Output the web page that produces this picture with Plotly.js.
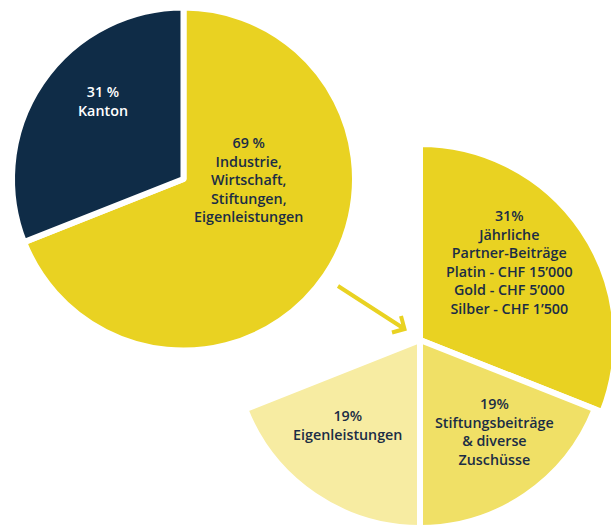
<!DOCTYPE html>
<html>
<head>
<meta charset="utf-8">
<script src="https://cdn.plot.ly/plotly-3.0.1.min.js"></script>
<style>
html,body{margin:0;padding:0;overflow:hidden;background:#fff;}
#chart{width:620px;height:540px;}
</style>
</head>
<body>
<div id="chart"></div>
<script>
// ---- data ----
const pie1Values = [69, 31];
const pie1Percent = ['69 %', '31 %'];
const pie1LabelLines = [
  ['Industrie,', 'Wirtschaft,', 'Stiftungen,', 'Eigenleistungen'],
  ['Kanton']
];
const pie1Colors = ['#e9d222', '#0f2c47'];
const pie1TextColors = ['#1b2d45', '#ffffff'];

const pie2Values = [31, 19, 19];
const pie2Percent = ['31%', '19%', '19%'];
const pie2LabelLines = [
  ['Jährliche', 'Partner-Beiträge', 'Platin - CHF 15’000', 'Gold - CHF 5’000', 'Silber - CHF 1’500'],
  ['Stiftungsbeiträge', '& diverse', 'Zuschüsse'],
  ['Eigenleistungen']
];
const pie2Colors = ['#e9d222', '#f0e066', '#f7eca2'];
const textColor = '#1b2d45';

// ---- layout helpers (pixel -> paper) ----
const W = 620, H = 540;
const px = x => x / W;
const py = y => 1 - y / H;
function domainFor(cx, cy, r) {
  return { x: [px(cx - r), px(cx + r)], y: [py(cy + r), py(cy - r)] };
}

const pie2Rest = 100 - pie2Values.reduce((a, b) => a + b, 0);
const pie2All = pie2Values.concat([pie2Rest]);
const clear = 'rgba(0,0,0,0)';

const traces = [
  {
    type: 'pie', values: pie1Values, labels: ['a', 'b'], sort: false, direction: 'clockwise', rotation: 0,
    marker: { colors: pie1Colors, line: { color: '#ffffff', width: 6 } },
    textinfo: 'none', hoverinfo: 'skip', domain: domainFor(183.5, 179, 171.5)
  },
  {
    type: 'pie', values: pie2All, labels: ['p1', 'p2', 'p3', 'p4'], sort: false, direction: 'clockwise', rotation: 0,
    marker: { colors: [pie2Colors[0], clear, clear, clear], line: { color: '#ffffff', width: [6, 0, 0, 0] } },
    textinfo: 'none', hoverinfo: 'skip', domain: domainFor(420, 340, 196)
  },
  {
    type: 'pie', values: pie2All, labels: ['q1', 'q2', 'q3', 'q4'], sort: false, direction: 'clockwise', rotation: 0,
    marker: { colors: [clear, pie2Colors[1], pie2Colors[2], clear], line: { color: '#ffffff', width: [0, 6, 6, 0] } },
    textinfo: 'none', hoverinfo: 'skip', domain: domainFor(420, 340, 188)
  }
];

const font = { family: 'Open Sans, sans-serif', size: 14.3, weight: 600 };
function ann(x, y, text, color) {
  return {
    xref: 'paper', yref: 'paper', x: px(x), y: py(y), xanchor: 'center', yanchor: 'middle',
    text: text, showarrow: false, align: 'center',
    font: Object.assign({}, font, { color: color })
  };
}
const pie1Pos = [[248, 179], [103, 101]];
const pie2Pos = [[509, 262], [494, 431], [347, 425]];
const annotations = [];
pie1Values.forEach((v, i) => {
  annotations.push(ann(pie1Pos[i][0], pie1Pos[i][1], [pie1Percent[i]].concat(pie1LabelLines[i]).join('<br>'), pie1TextColors[i]));
});
pie2Values.forEach((v, i) => {
  annotations.push(ann(pie2Pos[i][0], pie2Pos[i][1], [pie2Percent[i]].concat(pie2LabelLines[i]).join('<br>'), textColor));
});

const arrowPath = 'M ' + px(338) + ',' + py(286) + ' L ' + px(403) + ',' + py(328) +
  ' M ' + px(392) + ',' + py(332.5) + ' L ' + px(404.5) + ',' + py(329) + ' L ' + px(401) + ',' + py(316);

const layout = {
  width: W, height: H,
  margin: { l: 0, r: 0, t: 0, b: 0 },
  paper_bgcolor: '#ffffff', plot_bgcolor: '#ffffff',
  showlegend: false,
  annotations: annotations,
  shapes: [{ type: 'path', xref: 'paper', yref: 'paper', path: arrowPath, line: { color: '#e9d222', width: 4 } }]
};

Plotly.newPlot('chart', traces, layout, { displayModeBar: false, staticPlot: true });
</script>
</body>
</html>
